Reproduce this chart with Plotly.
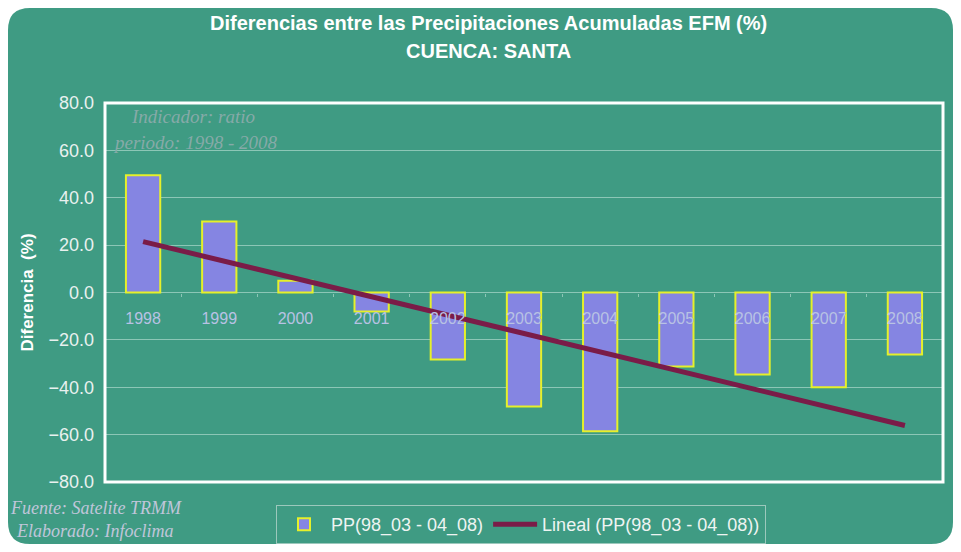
import numpy as np
import plotly.graph_objects as go

years = ["1998", "1999", "2000", "2001", "2002", "2003", "2004", "2005", "2006", "2007", "2008"]
diff_pct = [49.5, 30.0, 5.0, -8.0, -28.3, -48.1, -58.6, -31.2, -34.6, -40.0, -26.2]
y_ticks = [80, 60, 40, 20, 0, -20, -40, -60, -80]

# linear trend (Excel "Lineal")
xi = np.arange(len(years))
slope, intercept = np.polyfit(xi, diff_pct, 1)
trend = list(slope * xi + intercept)

OFF = 8  # page body margin
W, H = 945, 536
L, R, T, B = 97, 10, 95, 62
PW, PH = W - L - R, H - T - B


def px(x):
    # page pixel -> paper fraction
    return (x - OFF - L) / PW


def py(y):
    return (H - B - (y - OFF)) / PH


BG = "#3f9b83"

fig = go.Figure()
fig.add_trace(go.Bar(
    x=years, y=diff_pct, name="PP(98_03 - 04_08)",
    marker=dict(color="#8585e2", line=dict(color="#e6f02a", width=2)),
))
fig.add_trace(go.Scatter(
    x=years, y=trend, mode="lines", name="Lineal (PP(98_03 - 04_08))",
    line=dict(color="#7a1c48", width=5),
))

# rounded outer frame (covers the whole figure)
fx0, fx1 = -L / PW, (W - L) / PW
fy0, fy1 = (H - B) / PH, -B / PH
r = 22
rx, ry = r / PW, r / PH
path = (
    f"M {fx0+rx} {fy0} L {fx1-rx} {fy0} Q {fx1} {fy0} {fx1} {fy0-ry} "
    f"L {fx1} {fy1+ry} Q {fx1} {fy1} {fx1-rx} {fy1} "
    f"L {fx0+rx} {fy1} Q {fx0} {fy1} {fx0} {fy1+ry} "
    f"L {fx0} {fy0-ry} Q {fx0} {fy0} {fx0+rx} {fy0} Z"
)
fig.add_shape(type="path", path=path, xref="paper", yref="paper",
              fillcolor=BG, line=dict(width=0), layer="below")
# plot border
fig.add_shape(type="rect", xref="paper", yref="paper", x0=0, x1=1, y0=0, y1=1,
              line=dict(color="white", width=3), layer="above")


def note(text, x, y, font, xanchor="center"):
    fig.add_annotation(text=text, xref="paper", yref="paper", x=px(x), y=py(y),
                       xanchor=xanchor, yanchor="middle", showarrow=False, font=font)


title_font = dict(family="Arial, Liberation Sans, sans-serif", size=20, color="white")
note("<b>Diferencias entre las Precipitaciones Acumuladas EFM (%)</b>", 488, 23, title_font)
note("<b>CUENCA: SANTA</b>", 488, 51, title_font)

foot_font = dict(family="Liberation Serif, Times New Roman, serif", size=18, color="#c0c6da")
note("<i>Fuente: Satelite TRMM</i>", 8, 508, foot_font, "left")
note("<i>Elaborado: Infoclima</i>", 14, 531, foot_font, "left")

wm_font = dict(family="Liberation Serif, Times New Roman, serif", size=19, color="#86aaa8")
note("<i>Indicador: ratio</i>", 193, 116, wm_font)
note("<i>periodo: 1998 - 2008</i>", 195, 142, wm_font)

fig.update_layout(
    width=W, height=H,
    margin=dict(l=L, r=R, t=T, b=B, autoexpand=False),
    paper_bgcolor="white",
    plot_bgcolor="rgba(0,0,0,0)",
    bargap=0.55,
    showlegend=True,
    legend=dict(orientation="h", x=px(276), y=py(505), xanchor="left", yanchor="top",
                bgcolor="rgba(0,0,0,0)", bordercolor="#9cc8bc", borderwidth=1,
                font=dict(family="Liberation Sans, Arial, sans-serif", size=18, color="#eef4f2"),
                itemwidth=44),
    font=dict(family="Liberation Sans, Arial, sans-serif"),
)
fig.update_yaxes(
    range=[-80, 80], tickvals=y_ticks, tickformat=".1f",
    showgrid=True, gridcolor="#8cc6b6", gridwidth=1,
    zeroline=False, showline=False,
    tickfont=dict(size=18, color="#e9f1ef"),
    ticklabelstandoff=10,
    title=dict(text="<b>Diferencia  (%)</b>", font=dict(size=17, color="white"), standoff=10),
    ticks="",
)
fig.update_xaxes(
    anchor="free", position=0.5, showgrid=False, showline=False, zeroline=False,
    ticks="outside", ticklen=3, tickcolor="#8cc6b6", tickson="boundaries",
    ticklabelstandoff=14,
    tickfont=dict(size=16, color="#b8c2e4"),
)

fig.write_html("out.html")
